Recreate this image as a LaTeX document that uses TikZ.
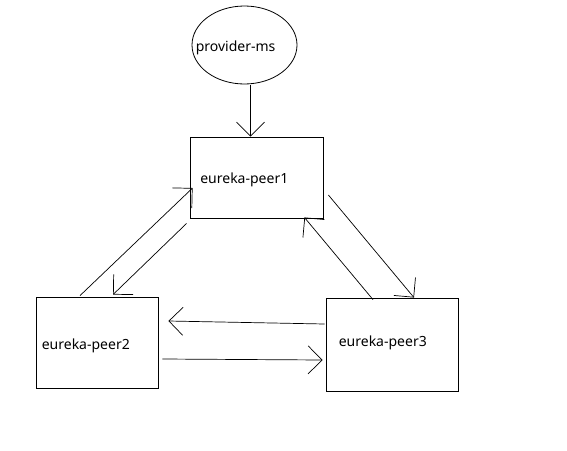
\documentclass[tikz,border=0pt]{standalone}
\usepackage{fontspec}
\setmainfont{Noto Sans}
\usetikzlibrary{arrows.meta, calc, shapes.geometric, positioning}
\tikzset{
    msNode/.style={ellipse, draw, line width=0.8pt, inner sep=0pt, minimum width=105pt, minimum height=78pt},
    peerBox/.style={rectangle, draw, line width=0.8pt, inner sep=0pt},
    peerText/.style={anchor=west, inner sep=0pt, font=\fontsize{14}{16}\selectfont},
    regEdge/.style={-{Straight Barb[length=14pt, width=28pt, line width=0.7pt]}, line width=0.7pt},
}
\newcommand{\drawReg}[2]{
    \draw[regEdge] #1 -- #2;
}
\begin{document}
\begin{tikzpicture}[x=1pt, y=-1pt]
    \useasboundingbox (0,0) rectangle (567,450);

    % provider and the three peers
    \node[msNode] (pm) at (244.5, 45) {};
    \node[peerBox, minimum width=133pt, minimum height=81pt] (p1) at (256.5, 177.5) {};
    \node[peerBox, minimum width=122pt, minimum height=91pt] (p2) at (97, 342.5) {};
    \node[peerBox, minimum width=132pt, minimum height=93pt] (p3) at (392, 344.5) {};

    \node[peerText] (t0) at ($(pm.west)+(4,2.5)$) {provider-ms};
    \node[peerText] (t1) at ($(p1.west)+(10.5,2.5)$) {eureka-peer1};
    \node[peerText] (t2) at ($(p2.west)+(6,3.5)$) {eureka-peer2};
    \node[peerText] (t3) at ($(p3.west)+(13,-1.5)$) {eureka-peer3};

    % registration arrows
    \drawReg{($(pm.south)+(6,1)$)}{($(p1.north)+(-6,0)$)}
    \drawReg{($(p2.north)+(-17,-1)$)}{($(p1.west)+(3,10.5)$)}
    \drawReg{($(p1.south west)+(-3,5)$)}{($(p2.north)+(16,-2)$)}
    \drawReg{($(p3.west)+(-1,-20.5)$)}{($(p2.east)+(10,-21.5)$)}
    \drawReg{($(p2.east)+(4,16.5)$)}{($(p3.west)+(-3,15.5)$)}
    \drawReg{($(p1.east)+(5,17.5)$)}{($(p3.north)+(22,0)$)}
    \drawReg{($(p3.north)+(-19,2)$)}{($(p1.south east)+(-19,-1)$)}

\end{tikzpicture}
\end{document}
